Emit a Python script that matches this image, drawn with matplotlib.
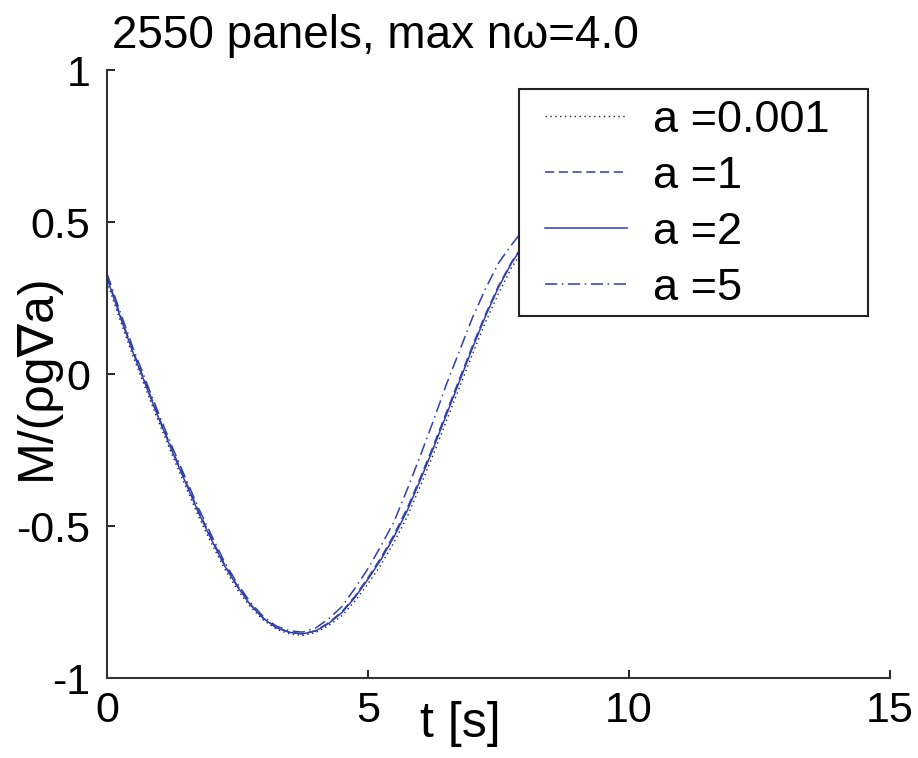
import matplotlib
matplotlib.use("Agg")
import matplotlib.pyplot as plt
from matplotlib.patches import Rectangle

plt.rcParams['font.family'] = ['Liberation Sans', 'DejaVu Sans']

# values
t = [0, 0.25, 0.5, 0.75, 1, 1.25, 1.5, 1.75, 2, 2.25, 2.5, 2.75, 3, 3.25, 3.5,
     3.75, 4, 4.25, 4.5, 4.75, 5, 5.25, 5.5, 5.75, 6, 6.25, 6.5, 6.75, 7, 7.25,
     7.5, 7.75, 8, 8.5, 9]
m_a0001 = [.304, .178, .058, -.052, -.162, -.267, -.367, -.467, -.557, -.64,
           -.71, -.767, -.81, -.84, -.855, -.86, -.85, -.827, -.795, -.747,
           -.69, -.627, -.553, -.47, -.37, -.265, -.155, -.045, .065, .17,
           .265, .35, .415, .5, .55]
m_a1 = [.321, .195, .075, -.035, -.145, -.25, -.35, -.45, -.54, -.626,
        -.697, -.758, -.804, -.834, -.85, -.855, -.844, -.818, -.782, -.731,
        -.67, -.604, -.528, -.442, -.342, -.237, -.127, -.017, .092, .196,
        .29, .368, .432, .512, .562]
m_a2 = [.316, .19, .07, -.04, -.15, -.255, -.355, -.455, -.545, -.63,
        -.70, -.76, -.805, -.835, -.85, -.855, -.845, -.82, -.785, -.735,
        -.675, -.61, -.535, -.45, -.35, -.245, -.135, -.025, .085, .19,
        .285, .365, .43, .51, .56]
m_a5 = [.331, .205, .085, -.025, -.135, -.24, -.34, -.44, -.53, -.618,
        -.69, -.752, -.799, -.83, -.845, -.849, -.835, -.805, -.765, -.705,
        -.64, -.565, -.485, -.38, -.27, -.155, -.035, .075, .185, .28,
        .365, .425, .48, .54, .58]
labels = ['a =0.001', 'a =1', 'a =2', 'a =5']

blue = '#2f3fb0'

fig = plt.figure(figsize=(9.18, 7.58), dpi=100)
ax = fig.add_axes([107/918, 1 - 678/758, 783/918, 608/758])

ax.plot(t, m_a0001, color='#222222', linestyle=(0, (1, 2.5)), linewidth=1.0, label=labels[0])
ax.plot(t, m_a1, color=blue, linestyle=(0, (6, 3)), linewidth=1.1, label=labels[1])
ax.plot(t, m_a2, color=blue, linestyle='-', linewidth=1.1, label=labels[2])
ax.plot(t, m_a5, color=blue, linestyle=(0, (8, 3, 1, 3)), linewidth=1.1, label=labels[3])

ax.set_xlim(0, 15)
ax.set_ylim(-1, 1)
ax.set_xticks([0, 5, 10, 15])
ax.set_yticks([-1, -0.5, 0, 0.5, 1])
ax.set_xticklabels(['0', '5', '10', '15'])
ax.set_yticklabels(['-1', '-0.5', '0', '0.5', '1'])
ax.tick_params(direction='in', length=6, width=1.2, labelsize=31, pad=9)
ax.tick_params(axis='y', pad=12)

ax.spines['top'].set_visible(False)
ax.spines['right'].set_visible(False)
for s in ['left', 'bottom']:
    ax.spines[s].set_linewidth(1.5)
    ax.spines[s].set_color('#333333')

ax.set_xlabel('t [s]', fontsize=36)
ax.xaxis.set_label_coords(0.451, -0.038)
ax.set_ylabel('M/(ρg∇a)', fontsize=36)
ax.yaxis.set_label_coords(-0.06, 0.495)

ax.text(0.006, 1.036, '2550 panels, max nω=4.0', transform=ax.transAxes,
        fontsize=33, ha='left', va='baseline')

# legend box drawn by hand so it sits where the original one is
box = Rectangle((519/918, 1 - 316/758), 349/918, 227/758, transform=fig.transFigure,
                facecolor='white', edgecolor='#222222', linewidth=1.5,
                zorder=4, clip_on=False)
ax.add_patch(box)
leg = ax.legend(loc='upper left', bbox_to_anchor=(545/918, 1 - 100/758),
                bbox_transform=fig.transFigure, fontsize=32.5, frameon=False,
                handlelength=1.82, handletextpad=0.58, labelspacing=0.33,
                borderpad=0, borderaxespad=0)
leg.set_zorder(5)

fig.savefig('out.png', dpi=100)
